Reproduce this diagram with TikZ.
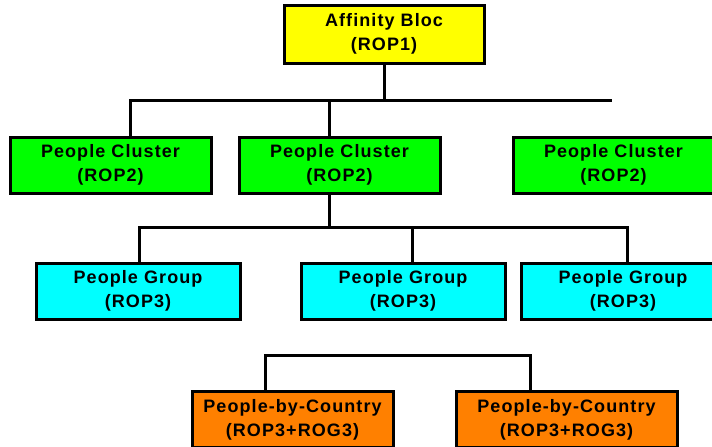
\documentclass[tikz,border=0pt]{standalone}
\usepackage{fontspec}
\newfontfamily\boxfont{Liberation Sans}[LetterSpace=6]
\usetikzlibrary{positioning, calc}
\definecolor{cyellow}{HTML}{FFFF00}
\definecolor{cgreen}{HTML}{00FF00}
\definecolor{ccyan}{HTML}{00FFFF}
\definecolor{corange}{HTML}{FF8000}
\tikzset{
  every picture/.style={line width=3pt},
  box/.style={draw=black, fill=#1, align=center, inner sep=0pt, minimum width=201pt, minimum height=56pt,
    font=\boxfont\bfseries\fontsize{18}{24}\selectfont},
  box/.default=cgreen,
  link/.style={draw=black, line width=3pt},
}
\begin{document}
\begin{tikzpicture}[x=1pt, y=-1pt]
  \useasboundingbox (0,0) rectangle (712,447);
  % affinity bloc
  \node[box=cyellow, minimum width=200pt, minimum height=58pt] (ab) at (384,34) {Affinity Bloc\\(ROP1)};
  % people clusters
  \foreach \i/\x in {1/110.5, 2/339.5, 3/613.5} \node[box=cgreen] (pc\i) at (\x,165) {People Cluster\\(ROP2)};
  % people groups
  \foreach \i/\x in {1/138, 2/403, 3/623} \node[box=ccyan, minimum width=204pt] (pg\i) at (\x,291) {People Group\\(ROP3)};
  % people by country
  \node[box=corange] (pb1) at (292.5,419.5) {People-by-Country\\(ROP3+ROG3)};
  \node[box=corange, minimum width=221pt] (pb2) at (566.5,419.5) {People-by-Country\\(ROP3+ROG3)};
  % connectors
  \coordinate (busA) at (612,100);
  \coordinate (busB) at (627,227);
  \coordinate (busC) at (530,355);
  \draw[link] (ab.south) -- (ab.south |- busA);
  \draw[link] ([xshift=19.5]pc1.north) |- (busA);
  \draw[link] ([xshift=-10.5]pc2.north) -- ([xshift=-10.5]pc2.north |- busA);
  \draw[link] ([xshift=-10.5]pc2.south) -- ([xshift=-10.5]pc2.south |- busB);
  \draw[link] ([xshift=1]pg1.north) |- (busB) -- (busB |- pg3.north);
  \draw[link] ([xshift=9]pg2.north) -- ([xshift=9]pg2.north |- busB);
  \draw[link] ([xshift=-27.5]pb1.north) |- (busC) -- (busC |- pb2.north);
\end{tikzpicture}
\end{document}
